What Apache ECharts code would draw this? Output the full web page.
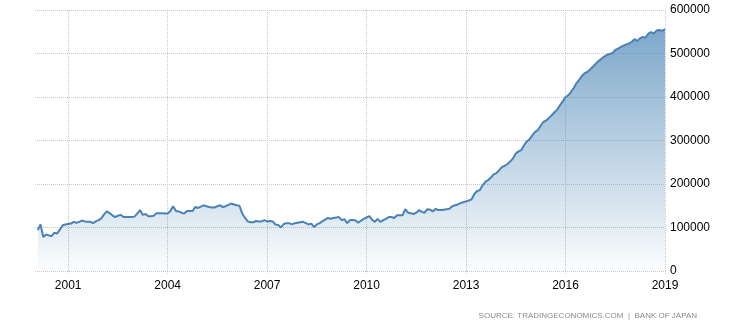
<!DOCTYPE html>
<html>
<head>
<meta charset="utf-8">
<script src="https://cdn.jsdelivr.net/npm/echarts@6/dist/echarts.min.js"></script>
<style>
html,body{margin:0;padding:0;background:#fff;}
#chart{width:746px;height:327px;}
</style>
</head>
<body>
<div id="chart"></div>
<script>
// Monthly values (Bank of Japan), first value = Feb 2000
const startYear = 2000;
const startMonth = 1; // 0-based month index of first value (Feb)
const v2000 = [94000,107000,78000,84000,82000,80000,88000,86000,95000,105000,107000];
const v2001 = [108000,109000,113000,111000,113000,116000,114000,113000,113000,110000,114000,117000];
const v2002 = [121000,130000,137000,133000,128000,124000,127000,129000,124000,124000,124000,124000];
const v2003 = [125000,132000,140000,129000,131000,126000,126000,127000,133000,133000,133000,132000];
const v2004 = [132000,138000,149000,138000,137000,134000,132000,138000,138000,138000,147000,145000];
const v2005 = [148000,151000,149000,147000,146000,146000,149000,151000,147000,149000,152000,155000];
const v2006 = [153000,151000,150000,132000,122000,114000,112000,112000,115000,114000,114000,117000];
const v2007 = [114000,115000,114000,107000,106000,100000,108000,110000,110000,107000,110000,111000];
const v2008 = [112000,113000,110000,107000,109000,101000,107000,110000,114000,118000,122000,120000];
const v2009 = [122000,123000,124000,117000,119000,110000,117000,117000,116000,111000,116000,120000];
const v2010 = [123000,126000,118000,113000,120000,113000,117000,120000,124000,124000,122000,128000];
const v2011 = [128000,128000,142000,134000,133000,131000,134000,140000,136000,134000,142000,141000];
const v2012 = [137000,143000,140000,140000,141000,142000,143000,149000,151000,153000,156000,158000];
const v2013 = [160000,162000,165000,177000,184000,186000,197000,205000,209000,215000,222000,225000];
const v2014 = [232000,239000,242000,246000,252000,259000,270000,275000,278000,289000,298000,303000];
const v2015 = [312000,320000,324000,334000,343000,346000,352000,358000,365000,371000,381000,390000];
const v2016 = [400000,404000,412000,421000,432000,440000,449000,455000,458000,464000,470000,477000];
const v2017 = [483000,488000,493000,497000,499000,501000,508000,511000,515000,518000,521000,523000];
const v2018 = [527000,533000,529000,535000,538000,537000,546000,549000,546000,553000,554000,552000];
const v2019 = [556000];

const xTickYears = [2001,2004,2007,2010,2013,2016,2019];
const yTicks = [0,100000,200000,300000,400000,500000,600000];

const allValues = [].concat(v2000,v2001,v2002,v2003,v2004,v2005,v2006,v2007,v2008,v2009,
  v2010,v2011,v2012,v2013,v2014,v2015,v2016,v2017,v2018,v2019);
const seriesData = allValues.map((v,i)=>[startYear + (startMonth + i)/12, v]);

const chart = echarts.init(document.getElementById('chart'), null, {renderer:'canvas'});
const gridColor = '#c8c8c8';
chart.setOption({
  animation:false,
  backgroundColor:'#ffffff',
  grid:{left:35,right:81,top:10,bottom:56,containLabel:false},
  xAxis:{
    type:'value', min:2000, max:2019,
    axisLine:{show:false},
    axisTick:{show:true,length:4,customValues:xTickYears,lineStyle:{color:gridColor,type:'dotted'}},
    axisLabel:{customValues:xTickYears,color:'#000',fontFamily:'Arial, "Liberation Sans", sans-serif',fontSize:12,margin:9,formatter:v=>String(v)},
    splitLine:{show:true,customValues:xTickYears,lineStyle:{color:gridColor,type:'dotted',width:1}}
  },
  yAxis:{
    type:'value', position:'right', min:yTicks[0], max:yTicks[yTicks.length-1], interval:100000,
    axisLine:{show:false}, axisTick:{show:false},
    axisLabel:{color:'#000',fontFamily:'Arial, "Liberation Sans", sans-serif',fontSize:12,margin:5,formatter:v=>String(v)},
    splitLine:{show:true,lineStyle:{color:gridColor,type:'dotted',width:1}}
  },
  series:[{
    type:'line',
    data:seriesData,
    symbol:'none',
    smooth:false,
    lineStyle:{color:'#4a82b6',width:2},
    itemStyle:{color:'#4a82b6'},
    areaStyle:{
      color:new echarts.graphic.LinearGradient(0,0,0,1,[
        {offset:0,color:'rgba(70,130,180,1)'},
        {offset:1,color:'rgba(70,130,180,0.03)'}
      ])
    }
  }],
  graphic:[{
    type:'text',
    right:49, top:312,
    style:{text:'SOURCE: TRADINGECONOMICS.COM  |  BANK OF JAPAN',fill:'#8a8a8a',font:'8px Arial, "Liberation Sans", sans-serif'}
  }]
});
</script>
</body>
</html>
